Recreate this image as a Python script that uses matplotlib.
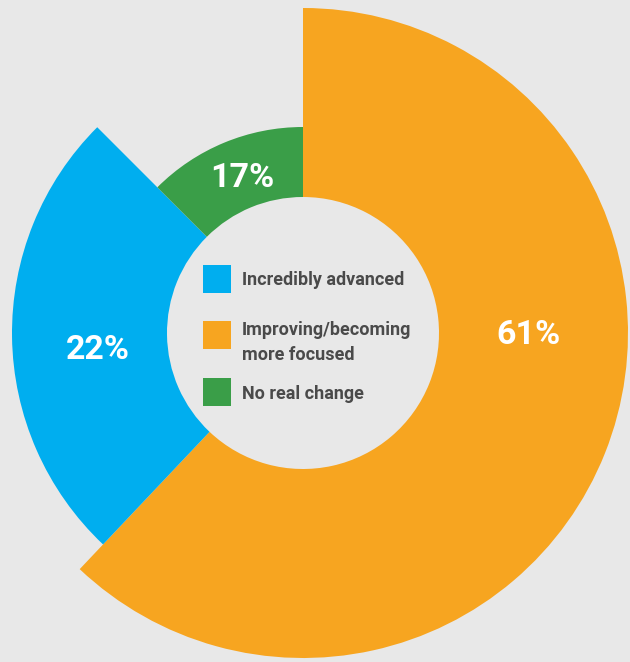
import matplotlib.pyplot as plt
from matplotlib.patches import Wedge, Rectangle

# data
labels = ['Incredibly advanced', 'Improving/becoming\nmore focused', 'No real change']
shares = [22, 61, 17]                 # percent shown on the slices
spans = [91.6, 223.4, 45.0]           # slice angles as drawn (degrees)
outer_r = [291, 325, 206]             # slice lengths as drawn
colors = ['#00AEEF', '#F7A520', '#3A9E48']

bg = '#E8E8E8'
W, H = 630, 662
cx, cy = 303, H - 333
inner_r = 136

fig = plt.figure(figsize=(W / 100, H / 100), dpi=100, facecolor=bg)
ax = fig.add_axes([0, 0, 1, 1])
ax.set_xlim(0, W)
ax.set_ylim(0, H)
ax.set_aspect('equal')
ax.axis('off')
ax.set_facecolor(bg)

# slices go clockwise from 12 o'clock: orange, blue, green
order = [1, 0, 2]
start = 90.0
for i in order:
    end = start - spans[i]
    ax.add_patch(Wedge((cx, cy), outer_r[i], end, start,
                       width=outer_r[i] - inner_r, facecolor=colors[i],
                       edgecolor='none'))
    start = end

# percentage labels
label_pos = {0: (98, H - 350), 1: (528, H - 335), 2: (242, H - 178)}
for i, (x, y) in label_pos.items():
    ax.text(x, y, f'{shares[i]}%', color='white', fontsize=24.5,
            fontweight='bold', family=['Roboto', 'DejaVu Sans'],
            ha='center', va='center')

# legend in the hole (baseline of last line)
box_y = [279, 335, 392]
text_base = [285, 360, 399]
for i in range(3):
    ax.add_patch(Rectangle((203, H - box_y[i] - 14), 28, 28,
                           facecolor=colors[i], edgecolor='none'))
    ax.text(242, H - text_base[i], labels[i], color='#4A4A4A', fontsize=13,
            fontweight='bold', family=['Roboto', 'DejaVu Sans'],
            ha='left', va='baseline', linespacing=1.5)

fig.savefig('out.png', dpi=100, facecolor=bg)
